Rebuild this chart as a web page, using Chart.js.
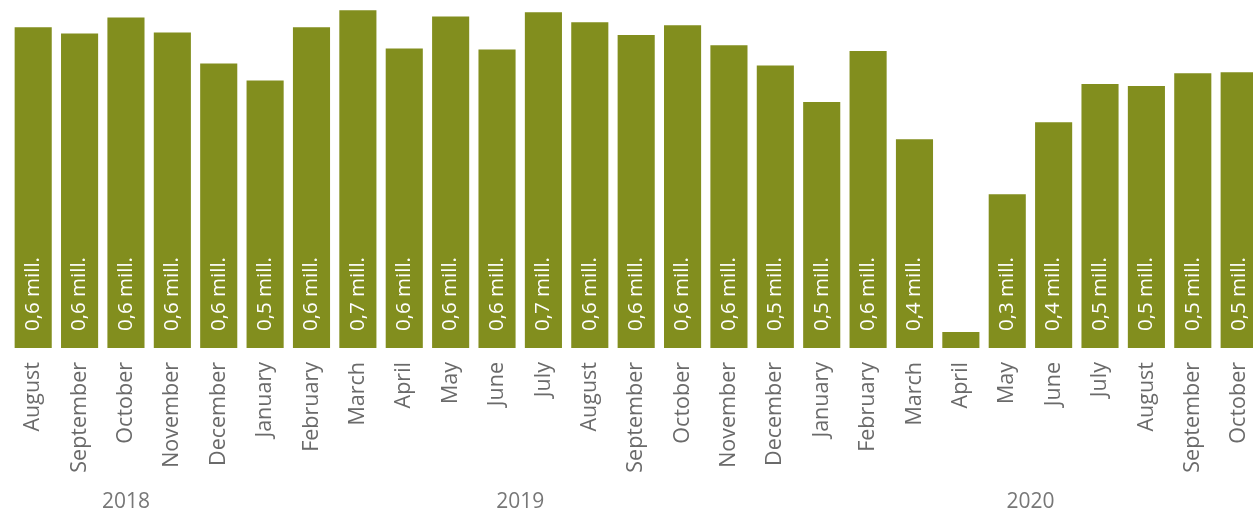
<!DOCTYPE html>
<html lang="en">
<head>
    <meta charset="UTF-8">
    <title>Monthly volume</title>
    <script src="https://cdn.jsdelivr.net/npm/chart.js"></script>
    <style>
        html, body {
            margin: 0;
            padding: 0;
            background: #fff;
            overflow: hidden;
        }
    </style>
</head>
<body>
    <canvas id="volumeChart" width="1271" height="515"></canvas>

    <script>
        // months, Aug 2018 - Oct 2020
        const months = ['August', 'September', 'October', 'November', 'December',
            'January', 'February', 'March', 'April', 'May', 'June', 'July', 'August', 'September', 'October', 'November', 'December',
            'January', 'February', 'March', 'April', 'May', 'June', 'July', 'August', 'September', 'October'];
        // values in millions
        const values = [0.622, 0.610, 0.641, 0.612, 0.552,
            0.519, 0.622, 0.655, 0.581, 0.643, 0.579, 0.651, 0.632, 0.607, 0.626, 0.587, 0.548,
            0.477, 0.576, 0.405, 0.031, 0.298, 0.438, 0.512, 0.508, 0.533, 0.535];
        const years = ['2018', '2019', '2020'];
        const yearFirst = [0, 5, 17];
        const yearLast = [4, 16, 26];

        const barColor = '#828e1e';
        const fontName = "'Open Sans', 'Noto Sans', sans-serif";

        const barLabels = {
            id: 'barLabels',
            afterDatasetsDraw(chart) {
                const ctx = chart.ctx;
                const meta = chart.getDatasetMeta(0);
                ctx.save();
                ctx.font = '20.5px ' + fontName;
                ctx.fillStyle = '#ffffff';
                ctx.textAlign = 'left';
                ctx.textBaseline = 'middle';
                meta.data.forEach((bar, i) => {
                    if (bar.base - bar.y < 100) return;
                    const txt = values[i].toFixed(1).replace('.', ',') + ' mill.';
                    ctx.save();
                    ctx.translate(bar.x, bar.base - 17);
                    ctx.rotate(-Math.PI / 2);
                    ctx.fillText(txt, 0, 0);
                    ctx.restore();
                });
                ctx.restore();
            }
        };

        const yearLabels = {
            id: 'yearLabels',
            afterDraw(chart) {
                const ctx = chart.ctx;
                const x = chart.scales.x;
                ctx.save();
                ctx.font = '21px ' + fontName;
                ctx.fillStyle = '#777777';
                ctx.textAlign = 'center';
                ctx.textBaseline = 'middle';
                years.forEach((y, i) => {
                    const cx = (x.getPixelForValue(yearFirst[i]) + x.getPixelForValue(yearLast[i])) / 2;
                    ctx.fillText(y, cx, 502);
                });
                ctx.restore();
            }
        };

        new Chart(document.getElementById('volumeChart'), {
            type: 'bar',
            data: {
                labels: months,
                datasets: [{
                    data: values,
                    backgroundColor: barColor,
                    barPercentage: 0.8,
                    categoryPercentage: 1.0
                }]
            },
            options: {
                responsive: false,
                animation: false,
                devicePixelRatio: 1,
                layout: { padding: { left: 10, right: 2, top: 0, bottom: 0 } },
                plugins: {
                    legend: { display: false },
                    tooltip: { enabled: false }
                },
                scales: {
                    x: {
                        grid: { display: false },
                        border: { display: false },
                        ticks: {
                            autoSkip: false,
                            minRotation: 90,
                            maxRotation: 90,
                            padding: 6,
                            color: '#6a6a6a',
                            font: { family: fontName, size: 21.5 }
                        },
                        afterFit(scale) { scale.height = 167; }
                    },
                    y: {
                        display: false,
                        min: 0,
                        max: 0.675
                    }
                }
            },
            plugins: [barLabels, yearLabels]
        });
    </script>
</body>
</html>
